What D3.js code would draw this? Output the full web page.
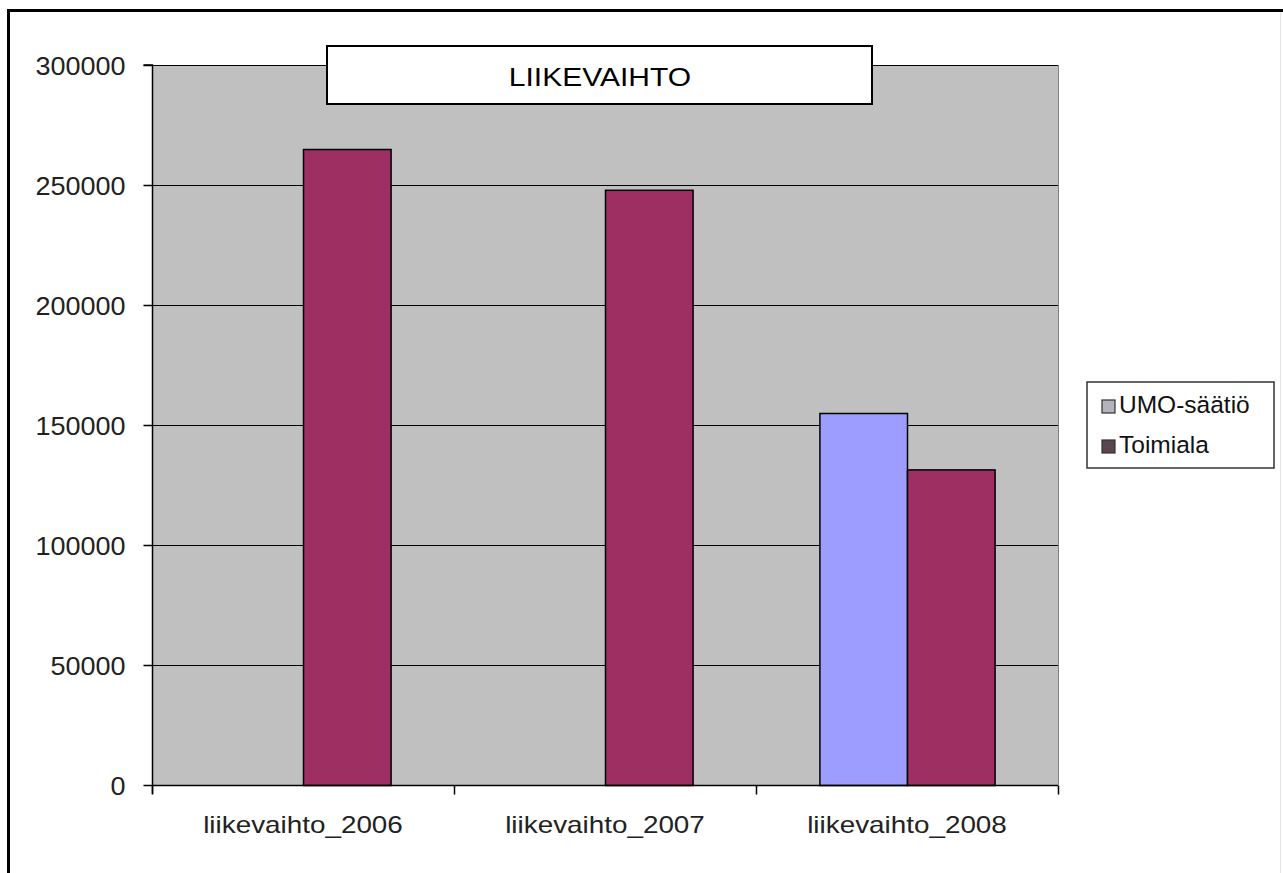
<!DOCTYPE html>
<html><head><meta charset="utf-8">
<script src="https://cdn.jsdelivr.net/npm/d3@7"></script>
<style>body{margin:0;background:#fff;} svg{display:block;font-family:Arial,"Liberation Sans",sans-serif;}</style>
</head><body>
<svg id="c" width="1283" height="873"></svg>
<script>
const categories = ["liikevaihto_2006", "liikevaihto_2007", "liikevaihto_2008"];
const seriesNames = ["UMO-säätiö", "Toimiala"];
const umoValues = [null, null, 155000];
const toimialaValues = [265000, 248000, 131500];
const yTicks = [0, 50000, 100000, 150000, 200000, 250000, 300000];
const seriesColors = ["#9d9dff", "#9e2f63"];
const legendMarkerColors = ["#b4b4bc", "#5a4650"];
const titleText = "LIIKEVAIHTO";

const FONT = "Arial, 'Liberation Sans', sans-serif";
const svg = d3.select("#c");
const plot = {left: 152, right: 1058, top: 65, bottom: 785};

function stretch(sel, k) {
  sel.each(function() {
    const w = this.getComputedTextLength();
    d3.select(this).attr("textLength", w * k).attr("lengthAdjust", "spacingAndGlyphs");
  });
}

// frame
svg.append("line").attr("x1", 8.5).attr("x2", 8.5).attr("y1", 10).attr("y2", 873).attr("stroke", "#000").attr("stroke-width", 3);
svg.append("line").attr("x1", 7).attr("x2", 1283).attr("y1", 10.5).attr("y2", 10.5).attr("stroke", "#000").attr("stroke-width", 3);
svg.append("line").attr("x1", 1280.5).attr("x2", 1280.5).attr("y1", 12).attr("y2", 873).attr("stroke", "#e4e4e4").attr("stroke-width", 1);

const x = d3.scaleBand().domain(categories).range([plot.left, plot.right]).paddingInner(0.42).paddingOuter(0.21);
const xs = d3.scaleBand().domain(seriesNames).range([0, x.bandwidth()]);
const y = d3.scaleLinear().domain([0, 300000]).range([plot.bottom, plot.top]);

// plot background
svg.append("rect").attr("x", plot.left).attr("y", plot.top).attr("width", plot.right - plot.left).attr("height", plot.bottom - plot.top).attr("fill", "#c0c0c0");

// gridlines
svg.append("g").selectAll("line").data(yTicks.filter(d => d > 0)).join("line")
  .attr("x1", plot.left).attr("x2", plot.right)
  .attr("y1", d => Math.round(y(d)) + 0.5).attr("y2", d => Math.round(y(d)) + 0.5)
  .attr("stroke", "#000").attr("stroke-width", 1);
svg.append("line").attr("x1", plot.right + 0.5).attr("x2", plot.right + 0.5).attr("y1", plot.top).attr("y2", plot.bottom).attr("stroke", "#808080");

// bars
const data = [];
categories.forEach((c, i) => {
  data.push({cat: c, s: seriesNames[0], v: umoValues[i], color: seriesColors[0]});
  data.push({cat: c, s: seriesNames[1], v: toimialaValues[i], color: seriesColors[1]});
});
svg.append("g").selectAll("rect").data(data.filter(d => d.v != null)).join("rect")
  .attr("x", d => x(d.cat) + xs(d.s) + 0.5)
  .attr("y", d => y(d.v) + 0.5)
  .attr("width", xs.bandwidth())
  .attr("height", d => y(0) - y(d.v))
  .attr("fill", d => d.color)
  .attr("stroke", "#000").attr("stroke-width", 1.5);

// y axis
const yAxis = d3.axisLeft(y).tickValues(yTicks).tickSize(9).tickPadding(18).tickFormat(d3.format("d"));
const gy = svg.append("g").attr("transform", `translate(${plot.left + 0.5},0)`).call(yAxis);
gy.attr("font-size", null).attr("font-family", null);
gy.select(".domain").attr("stroke", "#000").attr("stroke-width", 1.5).attr("d", `M-9,${plot.top}H0V${plot.bottom + 9}`);
gy.selectAll(".tick line").attr("stroke", "#000").attr("stroke-width", 1.5);
gy.selectAll("text").attr("font-size", 25).attr("fill", "#222").attr("font-family", FONT).attr("dy", "0.36em").call(stretch, 1.08);

// x axis
const xAxis = d3.axisBottom(x).tickSize(0).tickPadding(0);
const gx = svg.append("g").attr("transform", `translate(0,${plot.bottom + 0.5})`).call(xAxis);
gx.attr("font-size", null).attr("font-family", null);
gx.select(".domain").attr("stroke", "#000").attr("stroke-width", 1.5).attr("d", `M${plot.left},0H${plot.right}`);
gx.selectAll("text").attr("y", 47).attr("dy", null).attr("font-size", 24).attr("fill", "#222").attr("font-family", FONT).call(stretch, 1.16);
const bounds = categories.map(c => x(c) - x.step() * x.paddingInner() / 2).concat([plot.right]);
bounds[0] = plot.left;
gx.append("g").selectAll("line").data(bounds).join("line")
  .attr("x1", d => Math.round(d) + 0.5).attr("x2", d => Math.round(d) + 0.5)
  .attr("y1", 0).attr("y2", 9).attr("stroke", "#000").attr("stroke-width", 1.5);

// title box
svg.append("rect").attr("x", 327).attr("y", 46).attr("width", 545).attr("height", 58).attr("fill", "#fff").attr("stroke", "#000").attr("stroke-width", 2);
svg.append("text").attr("x", 600).attr("y", 86).attr("text-anchor", "middle").attr("font-size", 25).attr("font-family", FONT).attr("fill", "#000").text(titleText).call(stretch, 1.2);

// legend
const lg = svg.append("g");
lg.append("rect").attr("x", 1087).attr("y", 382).attr("width", 187).attr("height", 86).attr("fill", "#fff").attr("stroke", "#333").attr("stroke-width", 1.5);
const li = lg.selectAll("g.item").data(seriesNames).join("g").attr("class", "item")
  .attr("transform", (d, i) => `translate(1102,${413 + i * 40})`);
li.append("rect").attr("x", 0).attr("y", -13).attr("width", 13).attr("height", 13)
  .attr("fill", (d, i) => legendMarkerColors[i]).attr("stroke", "#333").attr("stroke-width", 1.2);
li.append("text").attr("x", 17).attr("y", 0).attr("font-size", 24.5).attr("font-family", FONT).attr("fill", "#111").text(d => d);
</script>
</body></html>
